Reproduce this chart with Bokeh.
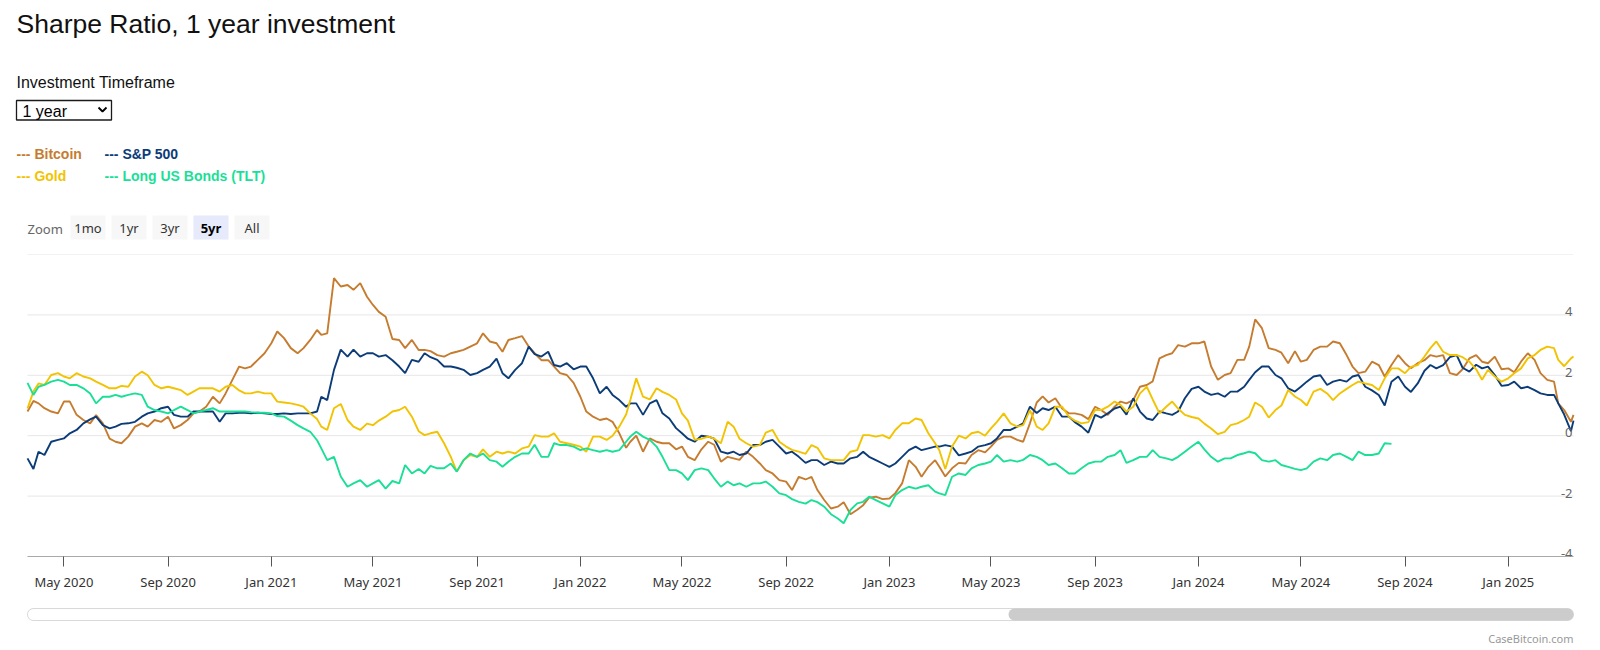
import pandas as pd
from bokeh.plotting import figure
from bokeh.layouts import column
from bokeh.models import Range1d, FixedTicker, DatetimeTickFormatter
from bokeh.core.properties import value
from bokeh.embed import file_html
from bokeh.resources import INLINE

# ---------------- data ----------------
TITLE = "Sharpe Ratio, 1 year investment"
SELECT_LABEL = "Investment Timeframe"
SELECT_VALUE = "1 year"
SERIES = ["Bitcoin", "S&P 500", "Gold", "Long US Bonds (TLT)"]
COLORS = ["#c67c2f", "#0c3c78", "#f2c300", "#1adf96"]
ZOOM_LABEL = "Zoom"
ZOOM_BUTTONS = ["1mo", "1yr", "3yr", "5yr", "All"]
ZOOM_SELECTED = "5yr"
CREDIT = "CaseBitcoin.com"
Y_GRID = [-4, -2, 0, 2, 4, 6]
Y_LABELS = [-4, -2, 0, 2, 4]
X_TICKS = ["2020-05-01", "2020-09-01", "2021-01-01", "2021-05-01", "2021-09-01",
           "2022-01-01", "2022-05-01", "2022-09-01", "2023-01-01", "2023-05-01",
           "2023-09-01", "2024-01-01", "2024-05-01", "2024-09-01", "2025-01-01"]
X_TICK_LABELS = ["May 2020", "Sep 2020", "Jan 2021", "May 2021", "Sep 2021",
                 "Jan 2022", "May 2022", "Sep 2022", "Jan 2023", "May 2023",
                 "Sep 2023", "Jan 2024", "May 2024", "Sep 2024", "Jan 2025"]

# sample dates: 19 & 26 Mar 2020, then days 1/8/16/24 of each month, then Mar 2025
START_DATES = ["2020-03-19", "2020-03-26"]
MONTHS = pd.period_range("2020-04", "2025-02", freq="M")
DAYS = [1, 8, 16, 24]
END_DATES = ["2025-03-01", "2025-03-08", "2025-03-16", "2025-03-19"]

bitcoin = [
    0.8, 1.15,
    1.07, 0.91, 0.8, 0.74,   1.13, 1.13, 0.69, 0.52,   0.41, 0.68, 0.41, -0.1,
    -0.2, -0.25, -0.03, 0.3,   0.41, 0.3, 0.52, 0.46,   0.63, 0.24, 0.35, 0.52,
    0.74, 0.8, 0.96, 1.29,   1.07, 1.4, 1.85, 2.29,   2.23, 2.29, 2.51, 2.73,
    # 2021
    3.06, 3.45, 3.23, 2.9,   2.73, 2.9, 3.17, 3.5,   3.34, 3.39, 5.22, 4.94,
    4.99, 4.83, 5.05, 4.6,   4.33, 4.1, 3.94, 3.2,   3.17, 2.9, 3.17, 2.84,
    2.84, 2.8, 2.67, 2.62,   2.73, 2.78, 2.84, 2.95,   3.06, 3.39, 3.12, 3.06,
    2.78, 3.17, 3.23, 3.3,   2.95, 2.73, 2.5, 2.5,   2.29, 2.07, 2.01, 1.75,
    # 2022
    1.29, 0.8, 0.63, 0.52,   0.57, 0.46, 0.08, -0.4,   -0.2, 0.0, -0.53, -0.09,
    -0.2, -0.25, -0.25, -0.45,   -0.36, -0.7, -0.81, -0.45,   -0.2, -0.3, -0.86, -0.7,
    -0.75, -0.8, -0.53, -0.7,   -0.92, -1.14, -1.25, -1.47,   -1.52, -1.8, -1.36, -1.45,
    -1.36, -1.8, -2.13, -2.41,   -2.35, -2.2, -2.6, -2.45,   -2.3, -2.05, -2.02, -2.1,
    # 2023
    -2.08, -1.9, -1.58, -0.81,   -1.03, -1.36, -1.03, -0.81,   -1.03, -1.35, -1.08, -0.9,
    -0.92, -0.64, -0.48, -0.55,   -0.36, -0.14, -0.03, -0.03,   -0.14, -0.2, 0.41, 1.1,
    1.3, 1.1, 1.24, 0.9,   0.74, 0.74, 0.69, 0.55,   0.96, 0.85, 0.69, 0.96,
    1.13, 1.07, 1.18, 1.62,   1.68, 1.8, 2.56, 2.67,   2.73, 3.0, 2.95, 3.06,
    # 2024
    3.06, 3.12, 2.29, 1.85,   2.01, 2.07, 2.51, 2.51,   2.95, 3.85, 3.56, 2.9,
    2.84, 2.75, 2.4, 2.8,   2.45, 2.51, 2.84, 2.95,   2.95, 3.12, 3.06, 2.67,
    2.29, 2.07, 2.12, 2.45,   2.34, 1.96, 2.34, 2.67,   2.4, 2.23, 2.4, 2.5,
    2.67, 2.62, 2.67, 2.07,   2.01, 2.2, 2.56, 2.67,   2.45, 2.4, 2.62, 2.2,
    # 2025
    2.23, 2.1, 2.45, 2.73,   2.51, 2.07, 1.85, 1.79,   1.07, 0.85, 0.46, 0.69,
]

sp500 = [
    -0.75, -1.1,
    -0.53, -0.64, -0.2, -0.14,   -0.09, 0.08, 0.19, 0.41,   0.54, 0.63, 0.35, 0.24,
    0.3, 0.39, 0.41, 0.46,   0.63, 0.74, 0.8, 0.91,   0.96, 0.69, 0.63, 0.63,
    0.8, 0.8, 0.8, 0.8,   0.46, 0.74, 0.74, 0.76,   0.76, 0.74, 0.76, 0.74,
    # 2021
    0.72, 0.72, 0.74, 0.72,   0.74, 0.74, 0.74, 0.8,   1.29, 1.18, 2.18, 2.85,
    2.62, 2.85, 2.62, 2.73,   2.73, 2.62, 2.67, 2.5,   2.29, 2.07, 2.51, 2.45,
    2.73, 2.6, 2.51, 2.29,   2.29, 2.25, 2.18, 2.01,   2.07, 2.18, 2.29, 2.55,
    2.07, 1.9, 2.18, 2.4,   2.95, 2.7, 2.62, 2.78,   2.34, 2.29, 2.4, 2.2,
    # 2022
    2.29, 2.29, 1.9, 1.4,   1.62, 1.35, 1.18, 0.96,   1.07, 1.07, 0.69, 1.07,
    1.18, 0.74, 0.57, 0.25,   0.08, -0.1, -0.2, 0.0,   -0.03, -0.1, -0.53, -0.59,
    -0.53, -0.64, -0.59, -0.31,   -0.31, -0.2, -0.14, -0.36,   -0.59, -0.53, -0.7, -0.9,
    -0.81, -0.81, -0.97, -0.86,   -0.92, -0.92, -0.75, -0.7,   -0.53, -0.7, -0.81, -0.92,
    # 2023
    -1.03, -0.92, -0.7, -0.48,   -0.36, -0.48, -0.42, -0.36,   -0.36, -0.31, -0.36, -0.65,
    -0.59, -0.53, -0.36, -0.31,   -0.25, -0.09, 0.19, 0.19,   0.3, 0.41, 0.96, 0.75,
    0.91, 0.85, 0.96, 0.63,   0.63, 0.45, 0.3, 0.1,   0.69, 0.6, 0.74, 0.9,
    0.96, 0.7, 1.24, 0.8,   0.57, 0.52, 0.8, 0.74,   0.69, 0.8, 1.24, 1.55,
    # 2024
    1.62, 1.46, 1.35, 1.4,   1.29, 1.46, 1.46, 1.62,   1.85, 2.1, 2.29, 2.29,
    2.01, 1.9, 1.57, 1.46,   1.62, 1.79, 1.96, 2.0,   1.68, 1.79, 1.85, 1.79,
    1.96, 2.01, 1.62, 1.5,   1.35, 1.0, 1.79, 1.96,   1.62, 1.45, 1.73, 2.15,
    2.34, 2.23, 2.34, 2.6,   2.67, 2.25, 2.12, 2.35,   2.23, 2.29, 2.01, 1.65,
    # 2025
    1.68, 1.79, 1.57, 1.62,   1.51, 1.4, 1.35, 1.35,   1.07, 0.7, 0.15, 0.5,
]

gold = [
    0.9, 1.46,
    1.73, 1.68, 2.01, 2.07,   1.96, 1.9, 2.07, 1.96,   1.9, 1.79, 1.68, 1.57,
    1.57, 1.65, 1.62, 1.96,   2.12, 2.0, 1.68, 1.57,   1.62, 1.57, 1.51, 1.35,
    1.46, 1.57, 1.57, 1.57,   1.46, 1.62, 1.68, 1.5,   1.4, 1.4, 1.46, 1.4,
    # 2021
    1.4, 1.13, 1.1, 1.07,   1.02, 0.96, 0.74, 0.55,   0.3, 0.19, 0.91, 1.05,
    0.52, 0.3, 0.19, 0.4,   0.35, 0.5, 0.63, 0.8,   0.85, 0.96, 0.63, 0.15,
    0.02, 0.08, 0.13, -0.25,   -0.7, -1.19, -0.81, -0.64,   -0.7, -0.45, -0.7, -0.53,
    -0.59, -0.53, -0.59, -0.42,   -0.36, 0.02, -0.03, -0.03,   0.08, -0.2, -0.25, -0.3,
    # 2022
    -0.36, -0.53, -0.03, -0.03,   -0.14, 0.0, 0.3, 0.7,   1.18, 1.9, 1.29, 1.2,
    1.57, 1.45, 1.35, 1.2,   0.74, 0.5, -0.14, -0.1,   -0.03, -0.1, -0.25, 0.46,
    0.3, -0.1, -0.25, -0.36,   -0.31, 0.1, 0.19, -0.2,   -0.36, -0.47, -0.53, -0.6,
    -0.31, -0.4, -0.75, -0.81,   -0.81, -0.81, -0.53, -0.48,   0.02, 0.02, -0.03, 0.02,
    # 2023
    -0.09, 0.19, 0.41, 0.41,   0.57, 0.52, 0.08, -0.25,   -0.48, -1.1, -0.36, 0.0,
    -0.09, 0.08, 0.13, 0.0,   0.24, 0.46, 0.74, 0.41,   0.3, 0.35, 0.85, 0.3,
    0.19, 0.41, 0.96, 0.96,   0.63, 0.5, 0.41, 0.45,   0.85, 0.85, 0.96, 1.13,
    1.02, 0.8, 0.96, 1.4,   1.62, 1.2, 0.74, 0.96,   1.13, 0.9, 0.69, 0.62,
    # 2024
    0.57, 0.4, 0.24, 0.05,   0.13, 0.35, 0.41, 0.52,   0.63, 1.1, 0.96, 0.6,
    0.85, 1.0, 1.51, 1.3,   1.18, 1.0, 1.46, 1.55,   1.4, 1.18, 1.4, 1.55,
    1.68, 1.79, 1.73, 1.68,   1.51, 1.9, 2.23, 2.23,   2.07, 2.28, 2.34, 2.62,
    2.9, 3.12, 2.78, 2.67,   2.67, 2.6, 2.45, 2.2,   1.85, 2.18, 1.96, 1.79,
    # 2025
    1.9, 2.07, 2.23, 2.56,   2.67, 2.84, 2.95, 2.9,   2.51, 2.3, 2.56, 2.62,
]

tlt = [
    1.75, 1.35,
    1.62, 1.68, 1.79, 1.85,   1.79, 1.68, 1.68, 1.57,   1.4, 1.07, 1.29, 1.29,
    1.35, 1.29, 1.35, 1.4,   1.35, 0.96, 0.85, 0.8,   0.74, 0.85, 0.96, 0.85,
    0.74, 0.8, 0.85, 0.91,   0.8, 0.8, 0.8, 0.8,   0.8, 0.78, 0.76, 0.76,
    # 2021
    0.74, 0.65, 0.63, 0.5,   0.35, 0.24, 0.13, -0.15,   -0.42, -0.81, -0.7, -1.35,
    -1.69, -1.58, -1.47, -1.69,   -1.58, -1.47, -1.75, -1.5,   -1.58, -0.97, -1.25, -1.1,
    -1.25, -1.0, -1.08, -1.08,   -0.92, -1.19, -0.81, -0.59,   -0.7, -0.59, -0.81, -0.86,
    -1.03, -0.86, -0.7, -0.59,   -0.59, -0.3, -0.7, -0.7,   -0.25, -0.31, -0.31, -0.36,
    # 2022
    -0.48, -0.42, -0.48, -0.53,   -0.48, -0.53, -0.48, -0.2,   -0.03, 0.13, -0.03, -0.14,
    -0.36, -0.7, -1.14, -1.14,   -1.25, -1.47, -1.14, -1.08,   -1.14, -1.41, -1.69, -1.52,
    -1.64, -1.58, -1.69, -1.58,   -1.58, -1.52, -1.69, -1.91,   -1.97, -2.1, -2.19, -2.25,
    -2.13, -2.2, -2.35, -2.6,   -2.74, -2.9, -2.46, -2.24,   -2.19, -2.02, -2.13, -2.24,
    # 2023
    -2.35, -1.97, -1.8, -1.69,   -1.75, -1.69, -1.64, -1.85,   -1.91, -1.97, -1.36, -1.25,
    -1.3, -1.08, -0.97, -0.92,   -0.86, -0.64, -0.86, -0.81,   -0.86, -0.8, -0.64, -0.7,
    -0.81, -0.97, -0.92, -1.08,   -1.25, -1.25, -1.08, -0.92,   -0.86, -0.86, -0.7, -0.64,
    -0.48, -0.9, -0.81, -0.7,   -0.7, -0.48, -0.7, -0.75,   -0.81, -0.7, -0.53, -0.36,
    # 2024 (series ends mid-August)
    -0.2, -0.45, -0.7, -0.86,   -0.75, -0.75, -0.64, -0.58,   -0.53, -0.58, -0.81, -0.86,
    -0.81, -0.97, -1.03, -1.1,   -1.14, -1.08, -0.86, -0.75,   -0.81, -0.64, -0.59, -0.7,
    -0.81, -0.53, -0.64, -0.64,   -0.59, -0.25, -0.27,
]

# ---------------- build dates ----------------
dates = [pd.Timestamp(s) for s in START_DATES]
for m in MONTHS:
    for d in DAYS:
        dates.append(pd.Timestamp(year=m.year, month=m.month, day=d))
dates += [pd.Timestamp(s) for s in END_DATES]

FONT_UI = "Liberation Sans"
FONT_CHART = "Noto Sans"
W = 1584          # figure width (page is 1600 wide with 8px margins)
PLOT_PAD = 19     # px between figure edge and plotted area, left and right


def bare(fig):
    for g in fig.grid:
        g.visible = False
    return fig


# ---------------- header (page pixel coordinates) ----------------
h = bare(figure(width=W, height=244, x_range=Range1d(8, 8 + W), y_range=Range1d(252, 8),
                output_backend="svg", toolbar_location=None, x_axis_location=None,
                y_axis_location=None, min_border=0, outline_line_color=None,
                background_fill_color="white", border_fill_color="white"))

h.text(x=[16], y=[23], text=[TITLE], text_font=value(FONT_UI), text_font_size=value("26.5px"),
       text_color="#111111", text_baseline="middle")
h.text(x=[16], y=[82], text=[SELECT_LABEL], text_font=value(FONT_UI), text_font_size=value("16px"),
       text_color="#111111", text_baseline="middle")
# select box
h.quad(left=[16], right=[111], top=[100], bottom=[119.5], fill_color="white",
       line_color="#1a1a1a", line_width=1.3)
h.text(x=[22], y=[110.5], text=[SELECT_VALUE], text_font=value(FONT_UI), text_font_size=value("16px"),
       text_color="#000000", text_baseline="middle")
h.line(x=[98, 102, 106], y=[107, 111, 107], line_color="#000000", line_width=1.8)

# legend (two columns, two rows)
leg_x = [16 + 88 * (i % 2) for i in range(len(SERIES))]
leg_y = [153 + 22 * (i // 2) for i in range(len(SERIES))]
h.text(x=leg_x, y=leg_y, text=["--- " + s for s in SERIES], text_color=COLORS,
       text_font=value(FONT_UI), text_font_size=value("14px"), text_font_style="bold",
       text_baseline="middle")

# range selector
h.text(x=[27], y=[228], text=[ZOOM_LABEL], text_font=value(FONT_CHART), text_font_size=value("13px"),
       text_color="#666666", text_baseline="middle")
bl = [70 + 41 * i for i in range(len(ZOOM_BUTTONS))]
br = [b + 35 for b in bl]
fills = ["#e6eafa" if z == ZOOM_SELECTED else "#f7f7f7" for z in ZOOM_BUTTONS]
h.quad(left=bl, right=br, top=[215] * len(bl), bottom=[239] * len(bl), fill_color=fills, line_color=None)
cx = [(a + b) / 2 for a, b in zip(bl, br)]
unsel = [i for i, z in enumerate(ZOOM_BUTTONS) if z != ZOOM_SELECTED]
sel = [i for i, z in enumerate(ZOOM_BUTTONS) if z == ZOOM_SELECTED]
h.text(x=[cx[i] for i in unsel], y=[227.5] * len(unsel), text=[ZOOM_BUTTONS[i] for i in unsel],
       text_font=value(FONT_CHART), text_font_size=value("13px"), text_color="#333333",
       text_align="center", text_baseline="middle")
h.text(x=[cx[i] for i in sel], y=[227.5] * len(sel), text=[ZOOM_BUTTONS[i] for i in sel],
       text_font=value(FONT_CHART), text_font_size=value("13px"), text_color="#000000",
       text_font_style="bold", text_align="center", text_baseline="middle")

# ---------------- chart ----------------
span = dates[-1] - dates[0]
pad = span * PLOT_PAD / (W - 2 * PLOT_PAD)
p = figure(width=W, height=344, x_axis_type="datetime",
           x_range=Range1d(dates[0] - pad, dates[-1] + pad),
           y_range=Range1d(Y_GRID[0], Y_GRID[-1]),
           output_backend="svg", toolbar_location=None, y_axis_location=None,
           min_border_left=0, min_border_right=0, min_border_top=2, min_border_bottom=40,
           outline_line_color=None, background_fill_color="white", border_fill_color="white")
bare(p)

# horizontal grid lines over the plotted time span; the lowest one is the axis line
p.segment(x0=[dates[0]] * len(Y_GRID), x1=[dates[-1]] * len(Y_GRID), y0=Y_GRID, y1=Y_GRID,
          line_color=["#555555" if v == Y_GRID[0] else "#e6e6e6" for v in Y_GRID], line_width=1)

for vals, col in zip([bitcoin, sp500, gold, tlt], COLORS):
    p.line(dates[:len(vals)], vals, line_color=col, line_width=1.9)

p.text(x=[dates[-1]] * len(Y_LABELS), y=Y_LABELS, text=[str(v) for v in Y_LABELS],
       text_align="right", text_baseline="alphabetic", x_offset=-1, y_offset=-3,
       text_color="#666666", text_font=value(FONT_CHART), text_font_size=value("13px"))

ax = p.xaxis[0]
tick_ms = [float(pd.Timestamp(t).value // 10**6) for t in X_TICKS]
ax.ticker = FixedTicker(ticks=tick_ms)
ax.formatter = DatetimeTickFormatter(months="%b %Y", days="%b %Y", years="%b %Y")
ax.major_label_overrides = {ms: lab for ms, lab in zip(tick_ms, X_TICK_LABELS)}
ax.axis_line_color = None
ax.major_tick_line_color = "#555555"
ax.major_tick_out = 10
ax.major_tick_in = 0
ax.minor_tick_line_color = None
ax.major_label_text_color = "#333333"
ax.major_label_text_font = FONT_CHART
ax.major_label_text_font_size = "13px"
ax.major_label_standoff = 6

# ---------------- footer: navigator scrollbar + credit ----------------
f = bare(figure(width=W, height=50, x_range=Range1d(8, 8 + W), y_range=Range1d(646, 596),
                output_backend="svg", toolbar_location=None, x_axis_location=None,
                y_axis_location=None, min_border=0, outline_line_color=None,
                background_fill_color="white", border_fill_color="white"))
f.line(x=[33, 1567], y=[614, 614], line_width=13, line_color="#d9d9d9", line_cap="round")
f.line(x=[33, 1567], y=[614, 614], line_width=11, line_color="#ffffff", line_cap="round")
f.line(x=[1014, 1567], y=[614, 614], line_width=12, line_color="#cccccc", line_cap="round")
f.text(x=[1573], y=[638], text=[CREDIT], text_align="right", text_baseline="middle",
       text_font=value(FONT_CHART), text_font_size=value("11px"), text_color="#999999")

layout = column(h, p, f, spacing=0, margin=(8, 8, 0, 8))
open("out.html", "w").write(file_html(layout, INLINE))
